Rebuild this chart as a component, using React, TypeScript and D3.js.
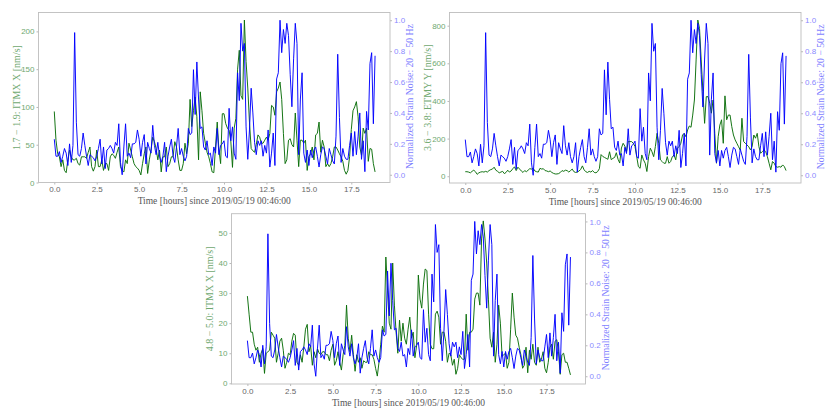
import { useRef, useEffect } from "react";
import * as d3 from "d3";

// one sample every 0.1 h
const sampleStep = 0.1;

const strainNoise = [
  0.23, 0.12, 0.12, 0.15, 0.08, 0.12, 0.17, 0.14, 0.06, 0.2,
  0.08, 0.19, 0.92, 0.34, 0.13, 0.12, 0.17, 0.27, 0.19, 0.12,
  0.06, 0.13, 0.12, 0.11, 0.09, 0.12, 0.17, 0.23, 0.07, 0.18,
  0.04, 0.16, 0.17, 0.19, 0.17, 0.14, 0.21, 0.19, 0.33, 0.08,
  0.0, 0.18, 0.33, 0.12, 0.14, 0.11, 0.2, 0.2, 0.21, 0.29,
  0.23, 0.12, 0.21, 0.26, 0.07, 0.21, 0.17, 0.14, 0.32, 0.19,
  0.13, 0.21, 0.12, 0.08, 0.12, 0.21, 0.02, 0.12, 0.18, 0.23,
  0.12, 0.08, 0.18, 0.3, 0.13, 0.17, 0.12, 0.09, 0.12, 0.3,
  0.26, 0.27, 0.68, 0.39, 0.73, 0.49, 0.3, 0.31, 0.18, 0.16,
  0.22, 0.13, 0.14, 0.06, 0.18, 0.14, 0.3, 0.13, 0.19, 0.2,
  0.22, 0.12, 0.11, 0.43, 0.22, 0.31, 0.14, 0.1, 0.66, 0.48,
  0.98, 0.8, 0.85, 0.31, 0.1, 0.29, 0.56, 0.4, 0.21, 0.13,
  0.22, 0.19, 0.22, 0.12, 0.19, 0.14, 0.29, 0.05, 0.14, 0.27,
  0.06, 0.62, 0.66, 1.0, 0.79, 0.94, 0.85, 0.98, 0.9, 0.65,
  0.44, 0.75, 0.98, 0.85, 0.13, 0.49, 0.66, 0.14, 0.08, 0.16,
  0.06, 0.16, 0.11, 0.16, 0.18, 0.12, 0.05, 0.13, 0.18, 0.17,
  0.12, 0.07, 0.17, 0.13, 0.09, 0.07, 0.25, 0.78, 0.37, 0.08,
  0.17, 0.12, 0.1, 0.1, 0.19, 0.27, 0.12, 0.28, 0.13, 0.25,
  0.4, 0.1, 0.22, 0.02, 0.41, 0.29, 0.72, 0.79, 0.33, 0.77,
];

const itmxLow = [
  94, 56, 38, 34, 21, 30, 16, 13, 30, 43,
  34, 30, 30, 32, 25, 23, 34, 34, 34, 32,
  40, 47, 21, 15, 21, 43, 21, 21, 30, 16,
  25, 25, 16, 34, 38, 36, 32, 40, 47, 21,
  16, 14, 30, 25, 52, 43, 34, 25, 21, 19,
  16, 10, 25, 38, 47, 12, 30, 43, 60, 54,
  45, 30, 43, 14, 34, 34, 47, 21, 25, 34,
  34, 54, 47, 30, 16, 16, 25, 52, 38, 52,
  110, 74, 95, 113, 87, 30, 120, 95, 65, 52,
  40, 34, 25, 14, 13, 47, 80, 43, 25, 91,
  91, 78, 72, 69, 55, 20, 72, 85, 150, 175,
  115, 110, 215, 160, 125, 80, 45, 42, 40, 50,
  63, 60, 52, 52, 56, 60, 56, 65, 102, 100,
  89, 120, 125, 133, 110, 65, 25, 30, 56, 58,
  50, 47, 92, 56, 21, 56, 56, 52, 56, 16,
  34, 38, 47, 30, 63, 65, 80, 40, 56, 47,
  21, 25, 21, 25, 34, 47, 47, 43, 38, 34,
  28, 16, 11, 16, 34, 70, 95, 100, 107, 87,
  47, 36, 72, 65, 72, 28, 45, 44, 25, 14,
];

const etmyMid = [
  24, 24, 22, 18, 26, 32, 24, 10, 18, 22,
  24, 22, 26, 22, 30, 35, 38, 48, 32, 26,
  18, 22, 26, 14, 20, 32, 22, 28, 40, 50,
  30, 48, 38, 28, 20, 30, 24, 32, 40, 38,
  42, 28, 24, 22, 42, 38, 40, 30, 28, 24,
  28, 20, 15, 12, 12, 14, 20, 30, 26, 32,
  30, 22, 30, 38, 24, 20, 22, 28, 36, 55,
  34, 24, 20, 26, 22, 30, 20, 18, 25, 40,
  115, 105, 100, 95, 90, 130, 88, 95, 100, 125,
  90, 70, 150, 175, 160, 130, 185, 184, 184, 175,
  158, 104, 51, 42, 113, 87, 69, 25, 104, 149,
  130, 104, 158, 228, 175, 87, 78, 69, 69, 104,
  69, 78, 104, 113, 87, 149, 158, 175, 219, 228,
  210, 246, 267, 260, 325, 405, 618, 830, 786, 618,
  450, 281, 423, 423, 388, 335, 405, 228, 69, 210,
  272, 300, 175, 427, 300, 325, 325, 264, 219, 193,
  175, 157, 140, 308, 184, 175, 166, 157, 140, 157,
  219, 202, 228, 157, 122, 131, 140, 131, 104, 69,
  34, 78, 69, 51, 48, 51, 48, 60, 51, 30,
];

const itmxHigh = [
  29, 23, 17, 17, 13, 11, 12, 7, 10, 11.5,
  3.3, 10, 10.5, 11, 17, 16, 15, 7, 10, 14,
  15, 11, 5, 7, 10, 9.5, 14, 16.6, 16, 7,
  6, 9.5, 7, 12, 18, 19.6, 10.5, 12.5, 6, 10.5,
  8.5, 11.5, 10, 9.5, 10.5, 10.5, 9.5, 9.5, 7.5, 11,
  13, 6, 7.5, 10.5, 7, 4.4, 9.5, 12.5, 26, 15,
  10.5, 16, 9.5, 4, 9.5, 7, 8.5, 5, 7.5, 7,
  7, 10.5, 9.5, 9.5, 8, 5, 2.4, 7, 13, 19,
  17, 42, 31, 20, 18, 40, 26, 17, 10, 21,
  14, 20, 15, 13, 18, 22, 15, 17, 8.5, 12.5,
  36, 28, 25, 33, 38, 37.5, 23, 13, 11.5, 11.5,
  23, 24, 22, 13, 17, 17, 14, 7, 10, 9.5,
  6, 8, 3, 5, 9.5, 8.5, 8, 8, 23, 11,
  17, 17, 18, 28, 30, 30, 26, 48, 54, 48,
  40, 28, 15, 12, 17, 7, 13, 26, 20, 9,
  9.5, 10, 5, 7, 18, 30, 22, 16, 15, 12,
  9.5, 5, 6, 12, 3.5, 11, 8, 13, 7, 6,
  12, 7, 8, 10.5, 5, 3.5, 7, 12, 13, 8,
  14, 14.5, 10.5, 3, 9.5, 10, 7, 7, 5, 2.8,
];

const hourTicks = [0, 2.5, 5, 7.5, 10, 12.5, 15, 17.5];
const strainTicks = [0, 0.2, 0.4, 0.6, 0.8, 1];
const itmxLowTicks = [0, 50, 100, 150, 200];
const etmyTicks = [0, 200, 400, 600, 800];
const itmxHighTicks = [0, 10, 20, 30, 40, 50];

const panels = [
  {
    left: 38.5, right: 390, top: 12.5, bottom: 182.5,
    label: "1.7 − 1.9: ITMX X [nm/s]",
    values: itmxLow, ticks: itmxLowTicks, domain: [0, 225],
  },
  {
    left: 449.5, right: 801, top: 12.5, bottom: 183,
    label: "3.6 − 3.8: ETMY Y [nm/s]",
    values: etmyMid, ticks: etmyTicks, domain: [-36, 870],
  },
  {
    left: 231.5, right: 585.5, top: 213.7, bottom: 384,
    label: "4.8 − 5.0: ITMX X [nm/s]",
    values: itmxHigh, ticks: itmxHighTicks, domain: [-0.23, 56.4],
  },
];

const GREEN = "#0a6e0a";
const BLUE = "#0000ff";
const SPINE = "#bdbdbd";
const FONT = "'Liberation Serif', serif";

export default function App() {
  const svgRef = useRef<SVGSVGElement>(null);

  useEffect(() => {
    if (!svgRef.current) return;
    const svg = d3.select(svgRef.current);
    svg.selectAll("*").remove();

    panels.forEach((p) => {
      const g = svg.append("g").style("font-family", FONT);

      const x = d3.scaleLinear().domain([-0.93, 19.78]).range([p.left, p.right]);
      const yLeft = d3.scaleLinear().domain(p.domain).range([p.bottom, p.top]);
      const yRight = d3.scaleLinear().domain([-0.05, 1.05]).range([p.bottom, p.top]);

      const bottomAxis = g
        .append("g")
        .attr("transform", `translate(0,${p.bottom})`)
        .call(d3.axisBottom(x).tickValues(hourTicks).tickFormat(d3.format(".1f")).tickSize(2).tickPadding(2));
      bottomAxis.selectAll("text").attr("fill", "#666").style("font-size", "8px");

      const leftAxis = g
        .append("g")
        .attr("transform", `translate(${p.left},0)`)
        .call(d3.axisLeft(yLeft).tickValues(p.ticks).tickFormat(d3.format("d")).tickSize(2).tickPadding(2));
      leftAxis.selectAll("text").attr("fill", "#6fa86f").style("font-size", "8px");

      const rightAxis = g
        .append("g")
        .attr("transform", `translate(${p.right},0)`)
        .call(d3.axisRight(yRight).tickValues(strainTicks).tickFormat(d3.format(".1f")).tickSize(2).tickPadding(2));
      rightAxis.selectAll("text").attr("fill", "#8a8aff").style("font-size", "8px");

      g.selectAll(".tick line").attr("stroke", "#888").attr("stroke-width", 0.6);
      g.selectAll(".domain").attr("stroke", "none");

      g.append("rect")
        .attr("x", p.left)
        .attr("y", p.top)
        .attr("width", p.right - p.left)
        .attr("height", p.bottom - p.top)
        .attr("fill", "none")
        .attr("stroke", SPINE)
        .attr("stroke-width", 0.9);

      const greenLine = d3
        .line<number>()
        .x((_, i) => x(i * sampleStep))
        .y((d) => yLeft(d));
      const blueLine = d3
        .line<number>()
        .x((_, i) => x(i * sampleStep))
        .y((d) => yRight(d));

      g.append("path")
        .datum(p.values)
        .attr("fill", "none")
        .attr("stroke", GREEN)
        .attr("stroke-width", 0.95)
        .attr("stroke-linejoin", "round")
        .attr("d", greenLine);

      g.append("path")
        .datum(strainNoise)
        .attr("fill", "none")
        .attr("stroke", BLUE)
        .attr("stroke-width", 0.95)
        .attr("stroke-linejoin", "round")
        .attr("d", blueLine);

      // X axis label
      g.append("text")
        .attr("x", (p.left + p.right) / 2)
        .attr("y", p.bottom + 21.5)
        .attr("text-anchor", "middle")
        .attr("fill", "#555")
        .style("font-size", "9.5px")
        .text("Time [hours] since 2019/05/19 00:46:00");

      // Y axis labels
      const midY = (p.top + p.bottom) / 2;
      g.append("text")
        .attr("transform", `translate(${p.left - 19},${midY}) rotate(-90)`)
        .attr("text-anchor", "middle")
        .attr("fill", "#6fa86f")
        .style("font-size", "10px")
        .text(p.label);

      g.append("text")
        .attr("transform", `translate(${p.right + 23},${midY - 1}) rotate(-90)`)
        .attr("text-anchor", "middle")
        .attr("fill", "#7f7fff")
        .style("font-size", "9.7px")
        .text("Normalized Strain Noise: 20 − 50 Hz");
    });
  }, []);

  return (
    <svg
      ref={svgRef}
      width={831}
      height={410}
      style={{ position: "absolute", left: 0, top: 0, background: "#fff" }}
    />
  );
}
